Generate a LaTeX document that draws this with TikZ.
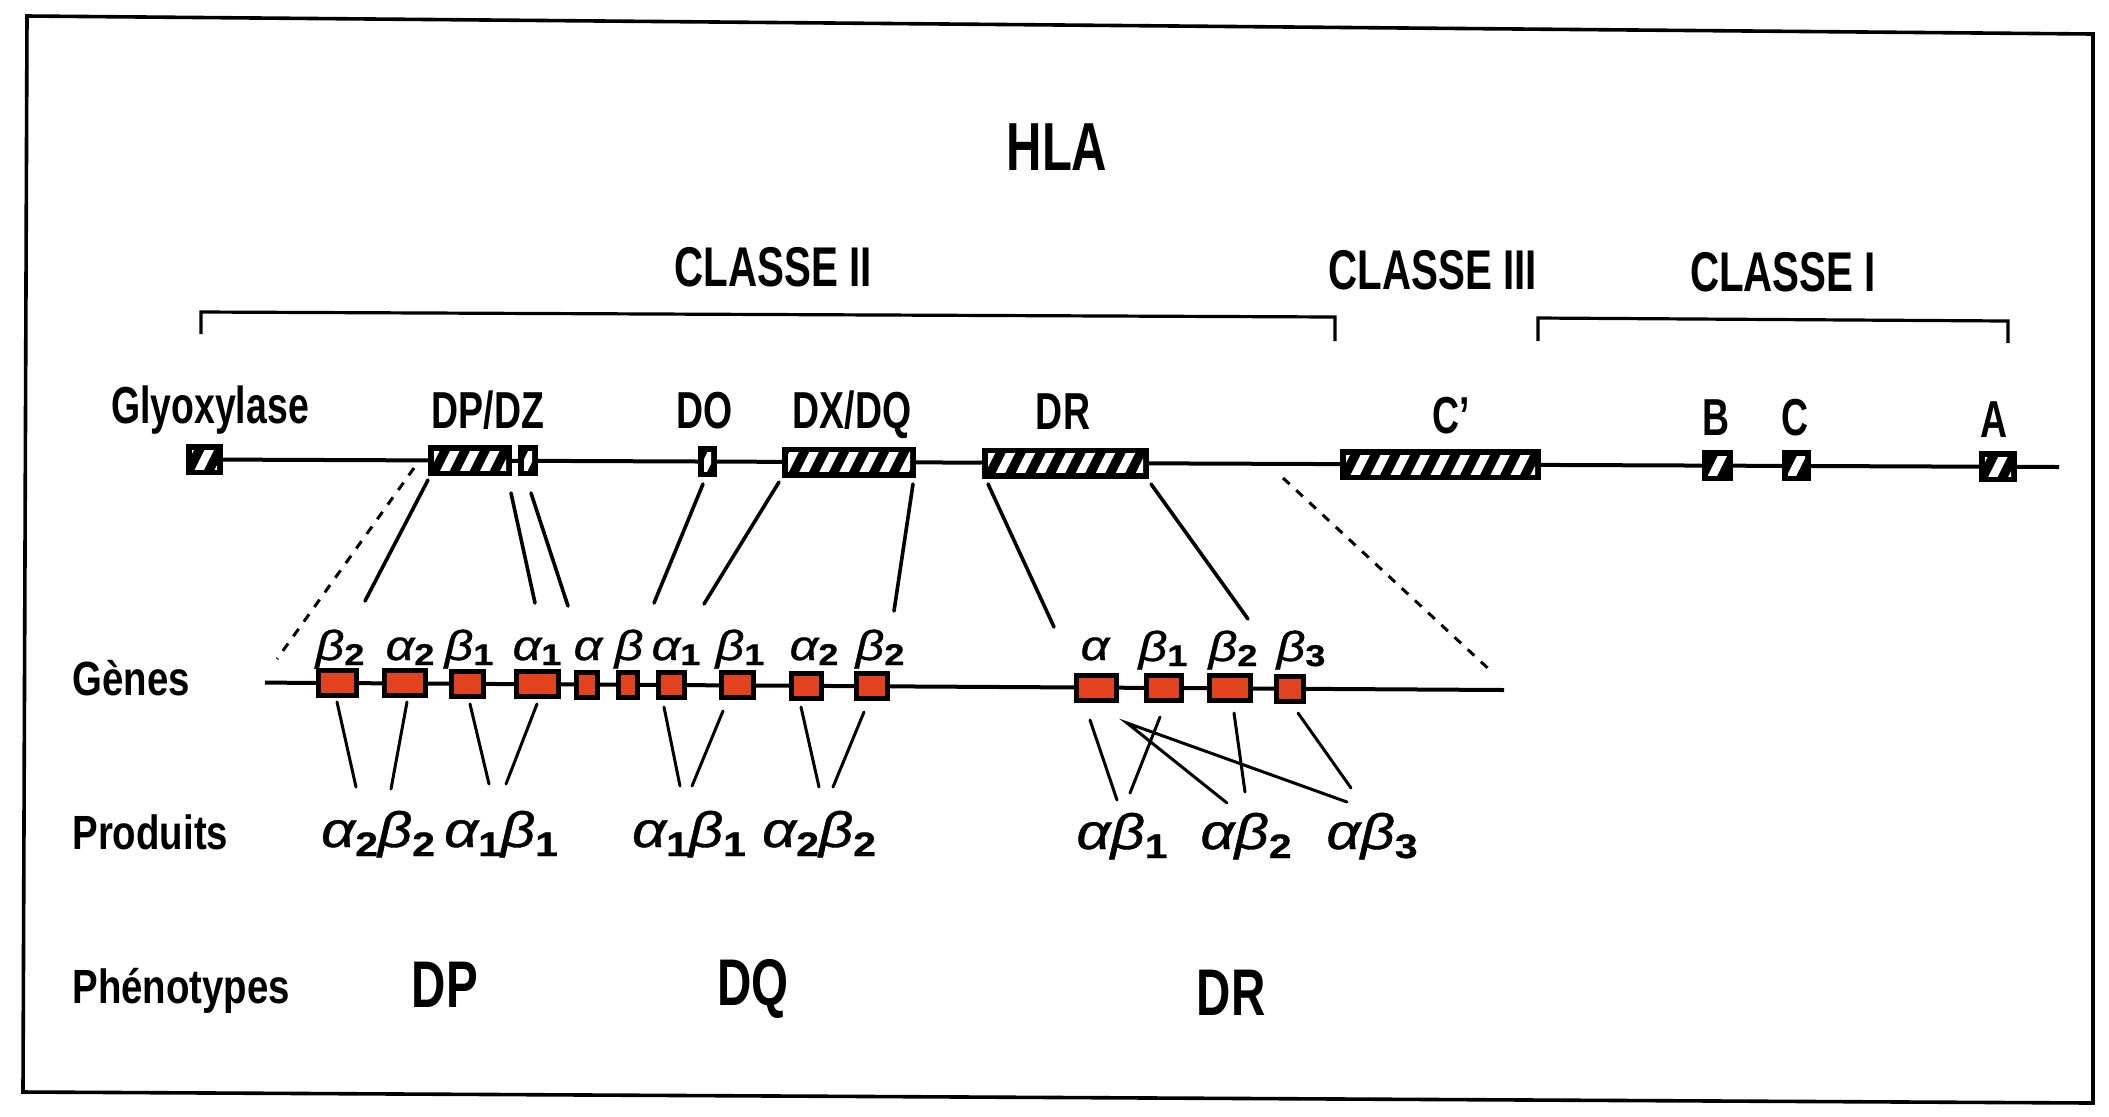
\documentclass[tikz,border=0pt]{standalone}
\usepackage{fontspec}
\setmainfont{Liberation Sans}
\newfontfamily\condA{Liberation Sans}[FakeStretch=0.72]
\newfontfamily\condB{Liberation Sans}[FakeStretch=0.8]
\newfontfamily\grk{Liberation Sans}[FakeStretch=1.2,FakeBold=0.8]
\definecolor{genered}{RGB}{226,66,30}
\newcommand{\gs}[2]{{\itshape #1}\raisebox{-2.5pt}{\fontsize{15}{15}\selectfont\bfseries\upshape #2}}
\newcommand{\ps}[2]{{\itshape #1}\raisebox{-4.5pt}{\fontsize{17}{17}\selectfont\bfseries\upshape #2}}
\begin{document}
\begin{tikzpicture}[x=0.5pt,y=-0.5pt,
  hatchbox/.style={fill=black, inner sep=0pt, minimum height=15.5pt, path picture={
     \clip ([shift={(3pt,3pt)}]path picture bounding box.south west) rectangle ([shift={(-3pt,-3pt)}]path picture bounding box.north east);
     \foreach \k in {-6,...,6}{\draw[white,line width=4.2pt] ([xshift=\k*10pt]path picture bounding box.center) ++(-5pt,-10pt) -- ++(10pt,20pt);}
  }},
  genebox/.style={draw=black, line width=2.5pt, fill=genered, inner sep=0pt, minimum height=12.5pt},
  title/.style={font=\condA\bfseries\fontsize{34}{40}\selectfont, anchor=base, inner sep=0pt},
  classlabel/.style={font=\condA\bfseries\fontsize{28}{32}\selectfont, anchor=base, inner sep=0pt},
  toplabel/.style={font=\condA\bfseries\fontsize{26}{30}\selectfont, anchor=base, inner sep=0pt},
  rowlabel/.style={font=\condB\bfseries\fontsize{24}{28}\selectfont, anchor=base west, inner sep=0pt},
  phenolabel/.style={font=\condA\bfseries\fontsize{33}{38}\selectfont, anchor=base, inner sep=0pt},
  glabel/.style={font=\grk\fontsize{21}{24}\selectfont, anchor=base, inner sep=0pt},
  plabel/.style={font=\grk\fontsize{25}{28}\selectfont, anchor=base, inner sep=0pt},
  frame/.style={line width=1.8pt},
  bracket/.style={line width=1.6pt},
  chrom/.style={line width=2pt},
  conn/.style={line width=1.8pt, line cap=round},
  thinconn/.style={line width=1.5pt, line cap=round},
  dashconn/.style={line width=1.5pt, dash pattern=on 4.5pt off 4.5pt}
]
\useasboundingbox (0,0) rectangle (2109,1116);
\fill[white] (0,0) rectangle (2109,1116);
% frame
\coordinate (f1) at (27,16);
\coordinate (f2) at (2093,34);
\coordinate (f3) at (2093,1103);
\coordinate (f4) at (23,1092);
\draw[frame] (f1) -- (f2) -- (f3) -- (f4) -- cycle;

% titles
\node[title] (hla) at (1057,170) {HLA};
\node[classlabel] (c2) at (773,286) {CLASSE II};
\node[classlabel] (c3) at (1433,289) {CLASSE III};
\node[classlabel] (c1) at (1783,291) {CLASSE I};

% brackets
\coordinate (b2a) at (201,334);
\coordinate (b2b) at (201,312);
\coordinate (b2c) at (1335,317);
\coordinate (b2d) at (1335,341);
\draw[bracket] (b2a) -- (b2b) -- (b2c) -- (b2d);
\coordinate (b1a) at (1538,341);
\coordinate (b1b) at (1538,318);
\coordinate (b1c) at (2008,321);
\coordinate (b1d) at (2008,343);
\draw[bracket] (b1a) -- (b1b) -- (b1c) -- (b1d);

% top labels
\node[toplabel] (lgly) at (210,423) {Glyoxylase};
\node[toplabel] (ldp) at (488,428) {DP/DZ};
\node[toplabel] (ldo) at (705,428) {DO};
\node[toplabel] (ldx) at (852,428) {DX/DQ};
\node[toplabel] (ldr) at (1063,429) {DR};
\node[toplabel] (lcp) at (1451,433) {C’};
\node[toplabel] (lb) at (1716,435) {B};
\node[toplabel] (lc) at (1795,435) {C};
\node[toplabel] (la) at (1994,437) {A};

% top chromosome line
\coordinate (topstart) at (204.5,459.5);
\coordinate (topend) at (2059,467);
\draw[chrom] (topstart) -- (topend);

\node[hatchbox, minimum width=18.5pt] (gly) at (204.5,459.5) {};
\node[hatchbox, minimum width=42pt] (dp) at (470,460.6) {};
\node[hatchbox, minimum width=10pt] (dz) at (528,460.8) {};
\node[hatchbox, minimum width=9.5pt] (do) at (707.5,461.5) {};
\node[hatchbox, minimum width=67pt] (dx) at (849,462.1) {};
\node[hatchbox, minimum width=83.5pt] (dr) at (1065.5,463) {};
\node[hatchbox, minimum width=100.5pt] (cp) at (1440.5,464.5) {};
\node[hatchbox, minimum width=15.5pt] (hb) at (1717.5,465.6) {};
\node[hatchbox, minimum width=14.5pt] (hc) at (1796.5,465.9) {};
\node[hatchbox, minimum width=19pt] (ha) at (1998,466.7) {};

% connectors from map to genes
\foreach \n/\a/\b/\c/\d in {t1/428/480/365/601, t2/511/493/535/603, t3/531/493/568/606,
    t4/703/484/654/603, t5/779/482/704/604, t6/913/484/894/611, t7/988/484/1054/627, t8/1151/484/1248/619}{
  \coordinate (\n s) at (\a,\b);
  \coordinate (\n e) at (\c,\d);
  \draw[conn] (\n s) -- (\n e);
}
\coordinate (dls) at (414,468);
\coordinate (dle) at (277,659);
\draw[dashconn] (dls) -- (dle);
\coordinate (drs) at (1283,478);
\coordinate (dre) at (1492,672);
\draw[dashconn] (drs) -- (dre);

% genes row
\node[rowlabel] (genes) at (72,695) {Gènes};
\coordinate (genestart) at (265,682.6);
\coordinate (geneend) at (1504,690);
\draw[chrom] (genestart) -- (geneend);

\node[genebox, minimum width=19pt] (g1) at (337.5,683.05) {};
\node[genebox, minimum width=20.5pt] (g2) at (405,683.45) {};
\node[genebox, minimum width=16pt] (g3) at (467.5,683.8) {};
\node[genebox, minimum width=21pt] (g4) at (537.5,684.2) {};
\node[genebox, minimum width=10.5pt] (g5) at (587,684.5) {};
\node[genebox, minimum width=9.5pt] (g6) at (628,684.8) {};
\node[genebox, minimum width=13pt] (g7) at (671.5,685.0) {};
\node[genebox, minimum width=16pt] (g8) at (737.5,685.4) {};
\node[genebox, minimum width=15pt] (g9) at (806.5,685.9) {};
\node[genebox, minimum width=15.5pt] (g10) at (872,686.3) {};
\node[genebox, minimum width=20pt] (g11) at (1096.5,687.6) {};
\node[genebox, minimum width=17.5pt] (g12) at (1164,688.0) {};
\node[genebox, minimum width=20.5pt] (g13) at (1230,688.4) {};
\node[genebox, minimum width=13.5pt] (g14) at (1290,688.8) {};

% gene labels
\node[glabel] (n1) at (340,660) {\gs{β}{2}};
\node[glabel] (n2) at (410,660) {\gs{α}{2}};
\node[glabel] (n3) at (469,660) {\gs{β}{1}};
\node[glabel] (n4) at (537,660) {\gs{α}{1}};
\node[glabel] (n5) at (588,660) {{\itshape α}};
\node[glabel] (n6) at (629,660) {{\itshape β}};
\node[glabel] (n7) at (676,660) {\gs{α}{1}};
\node[glabel] (n8) at (740,660) {\gs{β}{1}};
\node[glabel] (n9) at (814,660) {\gs{α}{2}};
\node[glabel] (n10) at (880,660) {\gs{β}{2}};
\node[glabel] (n11) at (1095,660) {{\itshape α}};
\node[glabel] (n12) at (1163,661) {\gs{β}{1}};
\node[glabel] (n13) at (1233,661) {\gs{β}{2}};
\node[glabel] (n14) at (1301,661) {\gs{β}{3}};

% connectors genes -> products
\foreach \n/\a/\b/\c/\d in {p1/337/702/356/787, p2/407/702/391/789, p3/470/704/489/784, p4/537/704/506/784,
    p5/664/707/680/786, p6/723/711/692/786, p7/801/707/819/787, p8/864/712/833/787,
    q1/1090/720/1117/800, q2/1160/717/1130/793, q5/1234/713/1245/792, q6/1298/713/1351/788}{
  \coordinate (\n s) at (\a,\b);
  \coordinate (\n e) at (\c,\d);
  \draw[thinconn] (\n s) -- (\n e);
}
\coordinate (qa) at (1127,723);
\coordinate (qb2) at (1227,803);
\coordinate (qb3) at (1347,802);
\draw[thinconn] (qb2) -- (qa) -- (qb3);

% products
\node[rowlabel] (prod) at (72,849) {Produits};
\node[plabel] (r1) at (378,847) {\ps{α}{2}\ps{β}{2}};
\node[plabel] (r2) at (501,847) {\ps{α}{1}\ps{β}{1}};
\node[plabel] (r3) at (689,847) {\ps{α}{1}\ps{β}{1}};
\node[plabel] (r4) at (819,847) {\ps{α}{2}\ps{β}{2}};
\node[plabel] (r5) at (1122,849) {{\itshape α}\ps{β}{1}};
\node[plabel] (r6) at (1246,849) {{\itshape α}\ps{β}{2}};
\node[plabel] (r7) at (1372,849) {{\itshape α}\ps{β}{3}};

% phenotypes
\node[rowlabel] (pheno) at (72,1003) {Phénotypes};
\node[phenolabel] (ph1) at (445,1007) {DP};
\node[phenolabel] (ph2) at (753,1005) {DQ};
\node[phenolabel] (ph3) at (1231,1015) {DR};
\end{tikzpicture}
\end{document}
